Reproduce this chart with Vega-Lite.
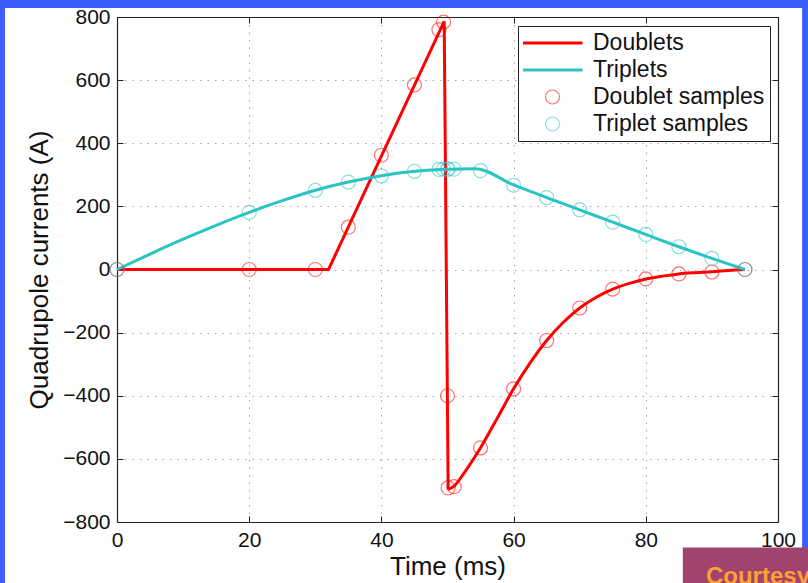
{
  "$schema": "https://vega.github.io/schema/vega-lite/v6.json",
  "width": 661,
  "height": 505,
  "autosize": {"type": "none"},
  "padding": {"left": 117, "top": 17, "right": 30, "bottom": 61},
  "background": "white",
  "config": {
    "font": "Liberation Sans",
    "view": {"stroke": null},
    "axis": {
      "domainColor": "#222222",
      "domainWidth": 1.2,
      "tickColor": "#222222",
      "tickWidth": 1,
      "labelColor": "#111111",
      "labelFont": "Liberation Sans",
      "labelFontSize": 21,
      "titleFont": "Liberation Sans",
      "titleFontSize": 26,
      "titleFontWeight": "normal",
      "titleColor": "#111111",
      "gridColor": "#a8a8a8",
      "gridDash": [1.5, 6],
      "gridWidth": 1
    }
  },
  "datasets": {
    "curves": [
      {"series": "Doublets", "part": "ramp", "t": 0, "current": 0},
      {"series": "Doublets", "part": "ramp", "t": 32, "current": 0},
      {"series": "Doublets", "part": "ramp", "t": 49.5, "current": 786},
      {"series": "Doublets", "part": "ramp", "t": 50.1, "current": -697},
      {"series": "Doublets", "part": "recovery", "t": 50.1, "current": -697},
      {"series": "Doublets", "part": "recovery", "t": 51, "current": -686},
      {"series": "Doublets", "part": "recovery", "t": 52.5, "current": -645},
      {"series": "Doublets", "part": "recovery", "t": 55, "current": -565},
      {"series": "Doublets", "part": "recovery", "t": 57.5, "current": -472},
      {"series": "Doublets", "part": "recovery", "t": 60, "current": -378},
      {"series": "Doublets", "part": "recovery", "t": 62.5, "current": -296},
      {"series": "Doublets", "part": "recovery", "t": 65, "current": -225},
      {"series": "Doublets", "part": "recovery", "t": 67.5, "current": -168},
      {"series": "Doublets", "part": "recovery", "t": 70, "current": -122},
      {"series": "Doublets", "part": "recovery", "t": 72.5, "current": -88},
      {"series": "Doublets", "part": "recovery", "t": 75, "current": -62},
      {"series": "Doublets", "part": "recovery", "t": 77.5, "current": -44},
      {"series": "Doublets", "part": "recovery", "t": 80, "current": -30},
      {"series": "Doublets", "part": "recovery", "t": 82.5, "current": -21},
      {"series": "Doublets", "part": "recovery", "t": 85, "current": -14},
      {"series": "Doublets", "part": "recovery", "t": 87.5, "current": -10},
      {"series": "Doublets", "part": "recovery", "t": 90, "current": -7},
      {"series": "Doublets", "part": "recovery", "t": 92.5, "current": -3},
      {"series": "Doublets", "part": "recovery", "t": 95, "current": 0},
      {"series": "Triplets", "part": "all", "t": 0, "current": 0},
      {"series": "Triplets", "part": "all", "t": 5, "current": 49},
      {"series": "Triplets", "part": "all", "t": 10, "current": 96},
      {"series": "Triplets", "part": "all", "t": 15, "current": 140},
      {"series": "Triplets", "part": "all", "t": 20, "current": 181},
      {"series": "Triplets", "part": "all", "t": 25, "current": 218},
      {"series": "Triplets", "part": "all", "t": 30, "current": 251},
      {"series": "Triplets", "part": "all", "t": 35, "current": 277},
      {"series": "Triplets", "part": "all", "t": 40, "current": 297},
      {"series": "Triplets", "part": "all", "t": 45, "current": 311},
      {"series": "Triplets", "part": "all", "t": 50, "current": 318},
      {"series": "Triplets", "part": "all", "t": 54.2, "current": 319},
      {"series": "Triplets", "part": "all", "t": 60, "current": 268},
      {"series": "Triplets", "part": "all", "t": 65, "current": 228},
      {"series": "Triplets", "part": "all", "t": 70, "current": 189},
      {"series": "Triplets", "part": "all", "t": 75, "current": 150},
      {"series": "Triplets", "part": "all", "t": 80, "current": 111},
      {"series": "Triplets", "part": "all", "t": 85, "current": 72},
      {"series": "Triplets", "part": "all", "t": 90, "current": 35},
      {"series": "Triplets", "part": "all", "t": 95, "current": 0}
    ],
    "samples": [
      {"series": "Doublet samples", "t": 0, "current": 0},
      {"series": "Doublet samples", "t": 20, "current": 0},
      {"series": "Doublet samples", "t": 30, "current": 0},
      {"series": "Doublet samples", "t": 35, "current": 134},
      {"series": "Doublet samples", "t": 40, "current": 362},
      {"series": "Doublet samples", "t": 45, "current": 585},
      {"series": "Doublet samples", "t": 48.7, "current": 760},
      {"series": "Doublet samples", "t": 49.4, "current": 784},
      {"series": "Doublet samples", "t": 50, "current": -400},
      {"series": "Doublet samples", "t": 50.1, "current": -692},
      {"series": "Doublet samples", "t": 51, "current": -688},
      {"series": "Doublet samples", "t": 55, "current": -565},
      {"series": "Doublet samples", "t": 60, "current": -378},
      {"series": "Doublet samples", "t": 65, "current": -225},
      {"series": "Doublet samples", "t": 70, "current": -122},
      {"series": "Doublet samples", "t": 75, "current": -62},
      {"series": "Doublet samples", "t": 80, "current": -30},
      {"series": "Doublet samples", "t": 85, "current": -14},
      {"series": "Doublet samples", "t": 90, "current": -8},
      {"series": "Doublet samples", "t": 95, "current": 0},
      {"series": "Triplet samples", "t": 0, "current": 0},
      {"series": "Triplet samples", "t": 20, "current": 181},
      {"series": "Triplet samples", "t": 30, "current": 251},
      {"series": "Triplet samples", "t": 35, "current": 277},
      {"series": "Triplet samples", "t": 40, "current": 297},
      {"series": "Triplet samples", "t": 45, "current": 311},
      {"series": "Triplet samples", "t": 48.7, "current": 317},
      {"series": "Triplet samples", "t": 49.4, "current": 318},
      {"series": "Triplet samples", "t": 50, "current": 318},
      {"series": "Triplet samples", "t": 50.1, "current": 318},
      {"series": "Triplet samples", "t": 51, "current": 318},
      {"series": "Triplet samples", "t": 55, "current": 313},
      {"series": "Triplet samples", "t": 60, "current": 267},
      {"series": "Triplet samples", "t": 65, "current": 228},
      {"series": "Triplet samples", "t": 70, "current": 189},
      {"series": "Triplet samples", "t": 75, "current": 150},
      {"series": "Triplet samples", "t": 80, "current": 111},
      {"series": "Triplet samples", "t": 85, "current": 72},
      {"series": "Triplet samples", "t": 90, "current": 35},
      {"series": "Triplet samples", "t": 95, "current": 0}
    ]
  },
  "layer": [
    {
      "data": {"values": [{"label": "frame"}]},
      "mark": {"type": "rect", "color": "#3b5cfb", "clip": false},
      "encoding": {
        "x": {"datum": -17.8, "type": "quantitative", "scale": {"domain": [0, 100], "nice": false, "zero": false}, "axis": null},
        "x2": {"datum": -16.95},
        "y": {"datum": 860, "type": "quantitative", "scale": {"domain": [-800, 800], "nice": false, "zero": false}, "axis": null},
        "y2": {"datum": -1000}
      }
    },
    {
      "data": {"values": [{"label": "frame"}]},
      "mark": {"type": "rect", "color": "#3b5cfb", "clip": false},
      "encoding": {
        "x": {"datum": -17.8, "type": "quantitative", "scale": {"domain": [0, 100], "nice": false, "zero": false}, "axis": null},
        "x2": {"datum": 104.6},
        "y": {"datum": 860, "type": "quantitative", "scale": {"domain": [-800, 800], "nice": false, "zero": false}, "axis": null},
        "y2": {"datum": 828.5}
      }
    },
    {
      "data": {"values": [{"label": "frame"}]},
      "mark": {"type": "rect", "color": "#3b5cfb", "clip": false},
      "encoding": {
        "x": {"datum": 103.65, "type": "quantitative", "scale": {"domain": [0, 100], "nice": false, "zero": false}, "axis": null},
        "x2": {"datum": 104.6},
        "y": {"datum": 860, "type": "quantitative", "scale": {"domain": [-800, 800], "nice": false, "zero": false}, "axis": null},
        "y2": {"datum": -1000}
      }
    },
    {
      "data": {"values": [{"label": "courtesy"}]},
      "mark": {"type": "rect", "color": "#a0436f", "clip": false},
      "encoding": {
        "x": {"datum": 85.6, "type": "quantitative", "scale": {"domain": [0, 100], "nice": false, "zero": false}, "axis": null},
        "x2": {"datum": 104.6},
        "y": {"datum": -881, "type": "quantitative", "scale": {"domain": [-800, 800], "nice": false, "zero": false}, "axis": null},
        "y2": {"datum": -1000}
      }
    },
    {
      "data": {"values": [{"label": "Courtesy"}]},
      "mark": {"type": "text", "color": "#ffa032", "clip": false, "align": "left", "baseline": "alphabetic", "fontSize": 24, "fontWeight": "bold", "font": "Liberation Sans"},
      "encoding": {
        "x": {"datum": 89.1, "type": "quantitative", "scale": {"domain": [0, 100], "nice": false, "zero": false}, "axis": null},
        "y": {"datum": -998, "type": "quantitative", "scale": {"domain": [-800, 800], "nice": false, "zero": false}, "axis": null},
        "text": {"field": "label"}
      }
    },
    {
      "data": {"name": "curves"},
      "transform": [{"filter": "datum.part === 'ramp'"}],
      "mark": {"type": "line", "color": "#ff0000", "strokeWidth": 3, "interpolate": "linear"},
      "encoding": {
        "x": {"field": "t", "type": "quantitative", "scale": {"domain": [0, 100], "nice": false, "zero": false},
          "axis": {"orient": "bottom", "values": [0, 20, 40, 60, 80, 100], "format": "d", "title": "Time (ms)", "grid": true, "tickSize": -6, "labelPadding": 13, "labelFlush": false, "labelOverlap": false, "titlePadding": 3}},
        "y": {"field": "current", "type": "quantitative", "scale": {"domain": [-800, 800], "nice": false, "zero": false},
          "axis": {"orient": "left", "values": [-800, -600, -400, -200, 0, 200, 400, 600, 800], "format": "d", "title": "Quadrupole currents (A)", "grid": true, "tickSize": -6, "labelPadding": 13, "labelFlush": false, "labelOverlap": false, "titlePadding": 10}},
        "order": {"field": "t", "type": "quantitative"}
      }
    },
    {
      "data": {"name": "curves"},
      "transform": [{"filter": "datum.part !== 'ramp'"}],
      "mark": {"type": "line", "strokeWidth": 3, "interpolate": "monotone"},
      "encoding": {
        "x": {"field": "t", "type": "quantitative", "scale": {"domain": [0, 100], "nice": false, "zero": false}, "axis": null},
        "y": {"field": "current", "type": "quantitative", "scale": {"domain": [-800, 800], "nice": false, "zero": false}, "axis": null},
        "color": {
          "field": "series", "type": "nominal",
          "scale": {"domain": ["Doublets", "Triplets", "Doublet samples", "Triplet samples"], "range": ["#ff0000", "#2cc3c3", "#ff0000", "#2cc3c3"]},
          "legend": {
            "orient": "none", "legendX": 401, "legendY": 9, "title": null,
            "fillColor": "white", "strokeColor": "#222222", "padding": 5, "cornerRadius": 0,
            "labelFont": "Liberation Sans", "labelFontSize": 23, "labelColor": "#111111", "labelOffset": 29, "labelLimit": 400,
            "symbolType": "stroke", "symbolSize": 3600, "symbolStrokeWidth": 3, "symbolOffset": 18,
            "clipHeight": 24, "rowPadding": 3,
            "encode": {
              "symbols": {
                "update": {
                  "shape": {"signal": "(datum.value === 'Doublets' || datum.value === 'Triplets') ? 'stroke' : 'circle'"},
                  "size": {"signal": "(datum.value === 'Doublets' || datum.value === 'Triplets') ? 3600 : 196"},
                  "strokeWidth": {"signal": "(datum.value === 'Doublets' || datum.value === 'Triplets') ? 3 : 1.2"},
                  "opacity": {"signal": "(datum.value === 'Doublets' || datum.value === 'Triplets') ? 1 : 0.55"},
                  "stroke": {"scale": "color", "field": "value"},
                  "fill": {"value": "transparent"}
                }
              }
            }
          }
        },
        "detail": {"field": "series", "type": "nominal"},
        "order": {"field": "t", "type": "quantitative"}
      }
    },
    {
      "data": {"name": "samples"},
      "mark": {"type": "point", "shape": "circle", "filled": false, "size": 196, "strokeWidth": 1.2, "opacity": 0.55},
      "encoding": {
        "x": {"field": "t", "type": "quantitative", "scale": {"domain": [0, 100], "nice": false, "zero": false},
          "axis": {"orient": "top", "values": [0, 20, 40, 60, 80, 100], "labels": false, "title": null, "grid": false, "tickSize": -6}},
        "y": {"field": "current", "type": "quantitative", "scale": {"domain": [-800, 800], "nice": false, "zero": false},
          "axis": {"orient": "right", "values": [-800, -600, -400, -200, 0, 200, 400, 600, 800], "labels": false, "title": null, "grid": false, "tickSize": -6}},
        "color": {
          "field": "series", "type": "nominal",
          "scale": {"domain": ["Doublets", "Triplets", "Doublet samples", "Triplet samples"], "range": ["#ff0000", "#2cc3c3", "#ff0000", "#2cc3c3"]},
          "legend": null
        }
      }
    }
  ],
  "resolve": {"axis": {"x": "independent", "y": "independent"}}
}
